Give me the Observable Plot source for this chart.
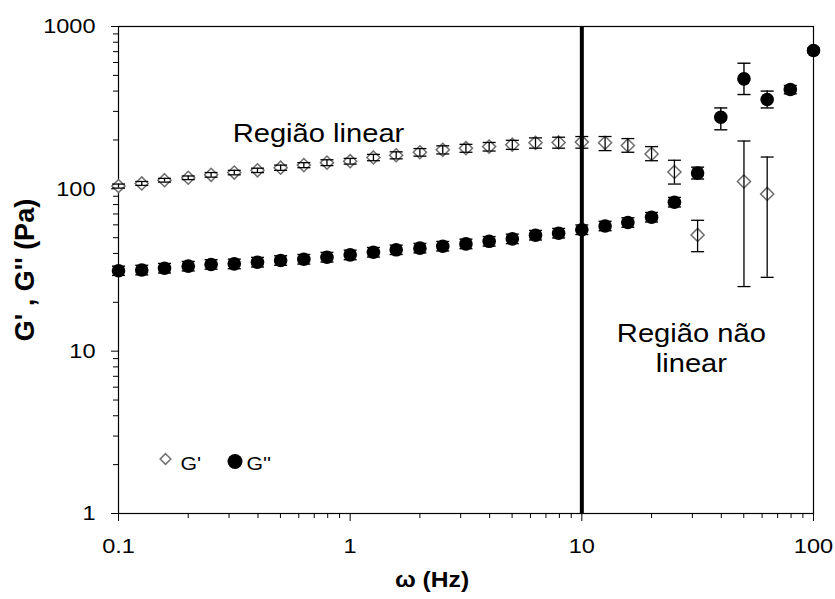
<!DOCTYPE html>
<html>
<head>
<meta charset="utf-8">
<script src="https://cdn.jsdelivr.net/npm/d3@7"></script>
<script src="https://cdn.jsdelivr.net/npm/@observablehq/plot@0.6"></script>
<style>
  html, body { margin: 0; padding: 0; background: #fff; }
  #chart { width: 835px; height: 599px; }
</style>
</head>
<body>
<div id="chart"></div>
<script>
// ---- data ----
const freq = [0.1, 0.126, 0.158, 0.2, 0.251, 0.316, 0.398, 0.501, 0.631, 0.794,
              1, 1.26, 1.58, 2, 2.51, 3.16, 3.98, 5.01, 6.31, 7.94,
              10, 12.6, 15.8, 20, 25.1, 31.6, 39.8, 50.1, 63.1, 79.4, 100];

// G' (storage modulus), null = no point shown
const gPrime   = [104, 108, 113, 117, 122, 126, 130, 135, 140, 145,
                  148, 156, 161, 168, 174, 178, 182, 187, 192, 193,
                  194, 192, 185, 164, 127, 52, null, 111, 93, null, null];
const gPrimeLo = [101, 105, 110, 114, 118, 122, 126, 130, 135, 139,
                  142, 149, 153, 159, 164, 168, 171, 175, 178, 178,
                  178, 172, 168, 149, 107, 41, null, 25, 28.5, null, null];
const gPrimeHi = [107, 111, 116, 120, 126, 130, 134, 140, 145, 151,
                  154, 163, 169, 177, 184, 188, 193, 199, 206, 208,
                  210, 210, 204, 182, 150, 64, null, 197, 157, null, null];

// G'' (loss modulus)
const gDouble   = [31.3, 31.6, 32.4, 33.4, 34.2, 34.5, 35.3, 36.2, 36.8, 37.9,
                   39.2, 40.7, 42.1, 43.1, 44.3, 45.8, 47.5, 49.2, 51.8, 53.3,
                   56, 59, 62, 66.8, 82.7, 125, 276, 476, 355, 409, 711];
const gDoubleLo = [29.3, 29.5, 30.3, 31.2, 32, 32.2, 33, 33.8, 34.4, 35.4,
                   36.6, 38, 39.4, 40.3, 41.4, 42.8, 44.4, 46, 48.4, 49.8,
                   52.3, 55.2, 58, 62.5, 77.3, 115, 231, 381, 315, 385, 690];
const gDoubleHi = [33.4, 33.8, 34.7, 35.7, 36.6, 36.9, 37.8, 38.7, 39.4, 40.6,
                   41.9, 43.5, 45, 46.1, 47.4, 49, 50.8, 52.6, 55.4, 57,
                   59.9, 63.1, 66.3, 71.5, 88.5, 136, 315, 594, 400, 433, 735];

const xMajorTicks = [0.1, 1, 10, 100];
const xMinorTicks = [0.2, 0.3, 0.4, 0.5, 0.6, 0.7, 0.8, 0.9,
                     2, 3, 4, 5, 6, 7, 8, 9,
                     20, 30, 40, 50, 60, 70, 80, 90];
const yMajorTicks = [1, 10, 100, 1000];
const yMinorTicks = [2, 3, 4, 5, 6, 7, 8, 9,
                     20, 30, 40, 50, 60, 70, 80, 90,
                     200, 300, 400, 500, 600, 700, 800, 900];

const boundary = [10];   // vertical line between linear and non-linear regions

const annotations = [
  {text: "Região linear", x: 0.73, y: 224},
  {text: "Região não\nlinear", x: 29.7, y: 10.5}
];

const xLabel = "ω (Hz)";
const yLabel = "G' , G'' (Pa)";
const legendLabels = ["G'", "G''"];

// ---- build tables ----
const gpRows = freq.map((f, i) => ({x: f, y: gPrime[i], lo: gPrimeLo[i], hi: gPrimeHi[i]}))
                   .filter(d => d.y != null);
const gppRows = freq.map((f, i) => ({x: f, y: gDouble[i], lo: gDoubleLo[i], hi: gDoubleHi[i]}));

// horizontal cap symbol for error bars
const capSymbol = {
  draw(context, size) {
    const w = Math.sqrt(size / Math.PI);
    context.moveTo(-w, 0);
    context.lineTo(w, 0);
  }
};

const fmt = d => String(d);

const chart = Plot.plot({
  width: 835,
  height: 599,
  marginLeft: 118,
  marginRight: 22,
  marginTop: 26,
  marginBottom: 86,
  x: {type: "log", domain: [0.1, 100], axis: null},
  y: {type: "log", domain: [1, 1000], axis: null},
  style: {
    fontFamily: "'Liberation Sans', Arial, sans-serif",
    fontSize: "21px",
    color: "#000",
    background: "#fff",
    overflow: "visible"
  },
  marks: [
    // axes
    Plot.axisX(xMinorTicks, {tickSize: 5, tickFormat: () => "", label: null, stroke: "#000"}),
    Plot.axisX(xMajorTicks, {tickSize: 8, tickPadding: 17, tickFormat: fmt, label: null,
                             stroke: "#000", fill: "#000", fontSize: 21}),
    Plot.axisY(yMinorTicks, {tickSize: 5, tickFormat: () => "", label: null, stroke: "#000"}),
    Plot.axisY(yMajorTicks, {tickSize: 7, tickPadding: 16, tickFormat: fmt, label: null,
                             stroke: "#000", fill: "#000", fontSize: 21}),
    Plot.frame({stroke: "#000", strokeWidth: 1.2}),

    // G'' error bars + markers
    Plot.ruleX(gppRows, {x: "x", y1: "lo", y2: "hi", stroke: "#000", strokeWidth: 1.4}),
    Plot.dot(gppRows, {x: "x", y: "lo", symbol: capSymbol, r: 6.5, stroke: "#000", strokeWidth: 1.4, fill: "none"}),
    Plot.dot(gppRows, {x: "x", y: "hi", symbol: capSymbol, r: 6.5, stroke: "#000", strokeWidth: 1.4, fill: "none"}),
    Plot.dot(gppRows, {x: "x", y: "y", r: 6.8, fill: "#000", stroke: null}),

    // G' markers + error bars
    Plot.dot(gpRows, {x: "x", y: "y", symbol: "diamond2", r: 5.9, fill: "#fff", stroke: "#6e6e6e", strokeWidth: 1.5}),
    Plot.ruleX(gpRows, {x: "x", y1: "lo", y2: "hi", stroke: "#000", strokeWidth: 1.3}),
    Plot.dot(gpRows, {x: "x", y: "lo", symbol: capSymbol, r: 6.5, stroke: "#000", strokeWidth: 1.3, fill: "none"}),
    Plot.dot(gpRows, {x: "x", y: "hi", symbol: capSymbol, r: 6.5, stroke: "#000", strokeWidth: 1.3, fill: "none"}),

    // region boundary
    Plot.ruleX(boundary, {stroke: "#000", strokeWidth: 4}),

    // annotations
    Plot.text(annotations, {x: "x", y: "y", text: "text", fontSize: 26, lineHeight: 1.15, fill: "#000"}),

    // axis titles
    Plot.text([yLabel], {frameAnchor: "left", textAnchor: "middle", lineAnchor: "middle", rotate: -90,
                         dx: -93, fontSize: 27, fontWeight: "bold", fill: "#000"}),
    Plot.text([xLabel], {frameAnchor: "bottom", textAnchor: "middle", lineAnchor: "middle",
                         dx: -34, dy: 66, fontSize: 22, fontWeight: "bold", fill: "#000"}),

    // legend (inside the plot, bottom-left)
    Plot.dot([legendLabels[0]], {frameAnchor: "bottom-left", dx: 47, dy: -54.5, symbol: "diamond2", r: 4.8,
                                 fill: "#fff", stroke: "#6e6e6e", strokeWidth: 1.5}),
    Plot.text([legendLabels[0]], {frameAnchor: "bottom-left", dx: 62, dy: -49.5, textAnchor: "start",
                                  lineAnchor: "middle", fontSize: 19, fill: "#000"}),
    Plot.dot([legendLabels[1]], {frameAnchor: "bottom-left", dx: 116.5, dy: -52, r: 7.5, fill: "#000", stroke: null}),
    Plot.text([legendLabels[1]], {frameAnchor: "bottom-left", dx: 128, dy: -49.5, textAnchor: "start",
                                  lineAnchor: "middle", fontSize: 19, fill: "#000"})
  ]
});

document.getElementById("chart").appendChild(chart);

// The reference's lettering is horizontally wider than Arial; widen horizontal text a bit.
const STRETCH = 1.12;
chart.querySelectorAll("text").forEach(t => {
  if (t.closest('[transform*="rotate"]')) return;
  const spans = t.querySelectorAll("tspan");
  const targets = spans.length ? Array.from(spans) : [t];
  targets.forEach(el => {
    const w = el.getComputedTextLength();
    if (w > 0) {
      el.setAttribute("textLength", (w * STRETCH).toFixed(1));
      el.setAttribute("lengthAdjust", "spacingAndGlyphs");
    }
  });
});
</script>
</body>
</html>
